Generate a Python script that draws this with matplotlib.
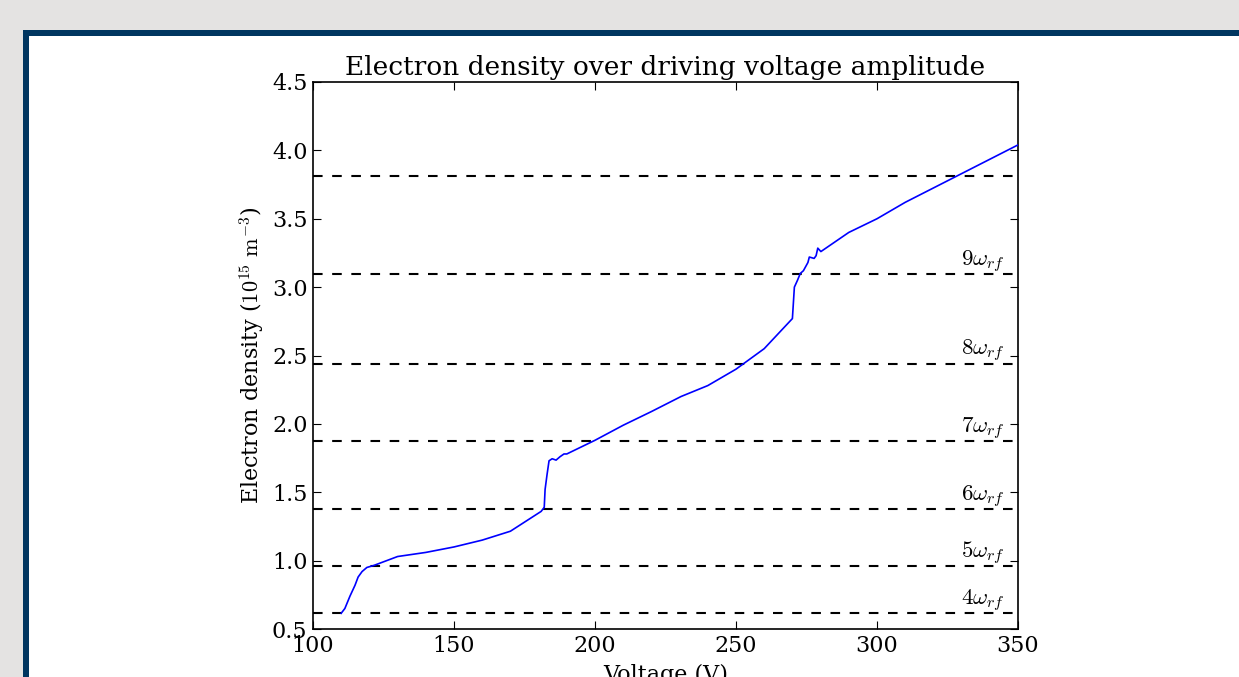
import numpy as np
import matplotlib
matplotlib.use('Agg')
import matplotlib.pyplot as plt
from matplotlib.patches import Rectangle

# blue curve: electron density vs driving voltage
voltage = [110, 111.3, 113.1, 114.9, 116, 117.4, 119.1, 121.6, 130, 140, 150,
           160, 170, 180.9, 182, 182.3, 183, 183.7, 184.8, 186.2, 187.6, 189,
           190, 200, 210, 220, 230.5, 240, 250, 260, 270, 270.7, 271.8, 272.8,
           273.9, 275.5, 276, 277.7, 278.4, 279, 280.1, 290, 300, 310, 350]
density = [0.615, 0.65, 0.74, 0.82, 0.88, 0.92, 0.95, 0.965, 1.03, 1.06, 1.1,
           1.15, 1.215, 1.36, 1.39, 1.52, 1.63, 1.73, 1.745, 1.735, 1.76, 1.78,
           1.78, 1.88, 1.99, 2.09, 2.2, 2.28, 2.4, 2.55, 2.77, 3.0, 3.05, 3.1,
           3.12, 3.18, 3.22, 3.21, 3.23, 3.285, 3.26, 3.4, 3.5, 3.62, 4.04]

# resonance levels n*omega_rf
harmonics = [4, 5, 6, 7, 8, 9, 10]
levels = [0.615, 0.96, 1.375, 1.875, 2.44, 3.095, 3.815]

plt.rcParams['font.family'] = 'DejaVu Serif'
plt.rcParams['mathtext.fontset'] = 'cm'

W, H = 1239, 677
fig = plt.figure(figsize=(W / 100, H / 100), dpi=100, facecolor='#e4e3e2')
fig.patches.append(Rectangle((23 / W, -0.1), 1.1, 1 - 30 / H + 0.1,
                             transform=fig.transFigure, facecolor='#003660',
                             edgecolor='none', zorder=-10))
fig.patches.append(Rectangle((29 / W, -0.1), 1.1, 1 - 36 / H + 0.1,
                             transform=fig.transFigure, facecolor='white',
                             edgecolor='none', zorder=-9))

ax = fig.add_axes([313 / W, 48 / H, 705 / W, 547 / H])
ax.plot(voltage, density, color='blue', lw=1.2, zorder=3)
for n, lv in zip(harmonics, levels):
    ax.axhline(lv, color='black', lw=1.5, dashes=(4.6, 4.6))
    if n < 10:
        ax.text(345.5, lv + 0.06, r'$%d\omega_{rf}$' % n, ha='right',
                va='baseline', fontsize=16.5)

ax.set_xlim(100, 350)
ax.set_ylim(0.5, 4.5)
ax.set_xticks(np.arange(100, 351, 50))
ax.set_yticks(np.arange(0.5, 4.51, 0.5))
ax.tick_params(direction='in', top=True, right=True, labelsize=16, length=6,
               pad=4)
for s in ax.spines.values():
    s.set_linewidth(1.2)
ax.set_title('Electron density over driving voltage amplitude', fontsize=19,
             pad=5)
ax.set_xlabel('Voltage (V)', fontsize=16, labelpad=5)
ax.set_ylabel(r'Electron density ($10^{15}\ \mathrm{m}^{-3}$)', fontsize=16)

fig.savefig('out.png', dpi=100, facecolor=fig.get_facecolor())
